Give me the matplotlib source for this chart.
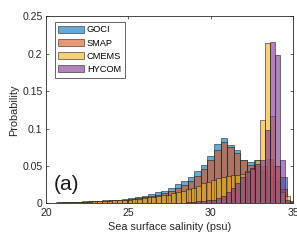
import numpy as np
import matplotlib
matplotlib.use("Agg")
import matplotlib.pyplot as plt

plt.rcParams['font.family'] = ['Liberation Sans', 'DejaVu Sans']

# ---- data (probabilities per bin) ----
# GOCI & SMAP: bins of 0.4 psu starting at 19.8
goci_smap_start = 19.8
goci_smap_width = 0.4
goci = [0.001, 0.001, 0.0015, 0.002, 0.002, 0.0025, 0.003, 0.003, 0.0035, 0.004,
        0.0045, 0.005, 0.006, 0.007, 0.008, 0.010, 0.013, 0.015, 0.017, 0.021,
        0.026, 0.030, 0.035, 0.043, 0.052, 0.064, 0.079, 0.088, 0.078, 0.072,
        0.058, 0.055, 0.058, 0.045, 0.035, 0.030, 0.035, 0.003]
smap = [0.001, 0.001, 0.0012, 0.0015, 0.0018, 0.002, 0.0025, 0.0028, 0.003, 0.0035,
        0.004, 0.0045, 0.005, 0.006, 0.007, 0.008, 0.010, 0.012, 0.014, 0.017,
        0.021, 0.025, 0.030, 0.037, 0.046, 0.058, 0.072, 0.082, 0.075, 0.068,
        0.058, 0.052, 0.050, 0.050, 0.060, 0.050, 0.020, 0.002]
# CMEMS & HYCOM: bins of 0.3 psu starting at 19.8
cmems_hycom_start = 19.8
cmems_hycom_width = 0.3
cmems = [0.001, 0.001, 0.0012, 0.0014, 0.0015, 0.0017, 0.002, 0.002, 0.0023, 0.0026,
         0.003, 0.003, 0.0033, 0.0036, 0.004, 0.0043, 0.0047, 0.005, 0.006, 0.0065,
         0.0072, 0.008, 0.009, 0.010, 0.011, 0.012, 0.014, 0.015, 0.017, 0.019,
         0.021, 0.024, 0.027, 0.029, 0.032, 0.034, 0.036, 0.037, 0.038, 0.038,
         0.040, 0.043, 0.046, 0.058, 0.111, 0.214, 0.117, 0.050, 0.015, 0.010]
hycom = [0.0, 0.0, 0.0, 0.0, 0.0, 0.0, 0.0, 0.0, 0.0, 0.0,
         0.0, 0.0, 0.0, 0.0, 0.0, 0.0, 0.0, 0.0, 0.0, 0.0,
         0.0, 0.0003, 0.0005, 0.0005, 0.0007, 0.0008, 0.0009, 0.001, 0.001, 0.002,
         0.002, 0.003, 0.003, 0.004, 0.005, 0.007, 0.010, 0.015, 0.021, 0.028,
         0.035, 0.042, 0.048, 0.053, 0.058, 0.098, 0.216, 0.198, 0.058, 0.004]

labels = ['GOCI', 'SMAP', 'CMEMS', 'HYCOM']
colors = [(0.0, 0.447, 0.741), (0.85, 0.325, 0.098),
          (0.929, 0.694, 0.125), (0.494, 0.184, 0.556)]
xticks = [20, 25, 30, 35]
yticks = [0, 0.05, 0.1, 0.15, 0.2, 0.25]
yticklabels = ['0', '0.05', '0.1', '0.15', '0.2', '0.25']

fig = plt.figure(figsize=(2.97, 2.44), dpi=100)
ax = fig.add_axes([0.155, 0.166, 0.832, 0.768])

series = [(goci, goci_smap_start, goci_smap_width),
          (smap, goci_smap_start, goci_smap_width),
          (cmems, cmems_hycom_start, cmems_hycom_width),
          (hycom, cmems_hycom_start, cmems_hycom_width)]
for (vals, start, w), lab, col in zip(series, labels, colors):
    vals = np.asarray(vals)
    edges = start + w * np.arange(len(vals) + 1)
    ax.bar(edges[:-1], vals, width=w, align='edge',
           facecolor=(*col, 0.6), edgecolor=(0.1, 0.1, 0.1, 0.85),
           linewidth=0.45, label=lab)

ax.set_xlim(20, 35)
ax.set_ylim(0, 0.25)
ax.set_xticks(xticks)
ax.set_xticklabels([str(t) for t in xticks])
ax.set_yticks(yticks)
ax.set_yticklabels(yticklabels)
ax.tick_params(direction='in', length=2.5, width=0.5, labelsize=7.6,
               colors='0.15', top=True, right=True)
ax.tick_params(axis='x', pad=3.5)
ax.tick_params(axis='y', pad=2.5)
for s in ax.spines.values():
    s.set_linewidth(0.6)
    s.set_color('0.15')
ax.set_xlabel('Sea surface salinity (psu)', fontsize=7.8, color='0.15', labelpad=2.5)
ax.set_ylabel('Probability', fontsize=7.8, color='0.15', labelpad=2)

ax.text(20.45, 0.026, '(a)', fontsize=15, ha='left', va='center', color='0.1')

leg = ax.legend(loc='upper left', bbox_to_anchor=(0.035, 0.97), fontsize=6.7,
                frameon=True, fancybox=False, edgecolor='0.15', framealpha=1,
                handlelength=2.7, handleheight=0.8, labelspacing=0.45,
                handletextpad=0.35, borderpad=0.4, borderaxespad=0.0)
leg.get_frame().set_linewidth(0.5)

fig.savefig('out.png', dpi=100)
